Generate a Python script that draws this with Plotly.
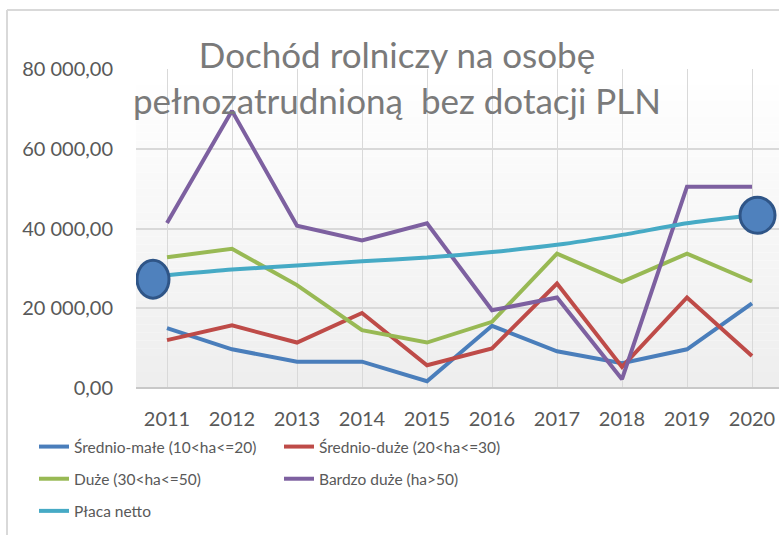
import plotly.graph_objects as go

# ---------------- data ----------------
years = ["2011", "2012", "2013", "2014", "2015", "2016", "2017", "2018", "2019", "2020"]
srednio_male = [15000, 9700, 6600, 6600, 1700, 15600, 9200, 6200, 9700, 21200]
srednio_duze = [12000, 15700, 11400, 18800, 5700, 9900, 26200, 5300, 22700, 8000]
duze = [32800, 34900, 25800, 14500, 11400, 16600, 33700, 26600, 33700, 26700]
bardzo_duze = [41400, 69500, 40700, 37000, 41300, 19500, 22700, 2200, 50500, 50500]
placa_netto = [28300, 29700, 30700, 31800, 32700, 34100, 35900, 38400, 41300, 43300]
series_names = ["Średnio-małe (10<ha<=20)", "Średnio-duże (20<ha<=30)",
                "Duże (30<ha<=50)", "Bardzo duże (ha>50)", "Płaca netto"]
y_tick_vals = [0, 20000, 40000, 60000, 80000]
title_text = "Dochód rolniczy na osobę<br>pełnozatrudnioną\u00a0 bez dotacji PLN"

# ---------------- geometry / style ----------------
W, H = 779, 535
L, T, R, B = 136, 69, 0, 147
PW, PH = W - L - R, H - T - B
FONT = "Lato, 'Open Sans', sans-serif"
LEG_FONT = "Lato, sans-serif"
colors = ["#4a7ebb", "#be4b48", "#98b954", "#7d60a0", "#46aac5"]
TXT = "#595959"
GRID = "#d9d9d9"


def px_x(px):
    return (px - L) / PW


def px_y(py):
    return (H - B - py) / PH


fig = go.Figure()
data = [srednio_male, srednio_duze, duze, bardzo_duze, placa_netto]
legend_of = ["legend", "legend2", "legend", "legend2", "legend"]
for i, (name, vals) in enumerate(zip(series_names, data)):
    fig.add_trace(go.Scatter(
        x=years, y=vals, name=name, mode="lines",
        line=dict(color=colors[i], width=4,
                  shape="spline" if i == 4 else "linear", smoothing=0.6),
        legend=legend_of[i], legendgroup=name,
    ))

shapes = []
# background gradient of plot area
nb = 40
for k in range(nb):
    t = k / (nb - 1)
    c = int(round(255 - (255 - 238) * (1 - t)))
    shapes.append(dict(type="rect", xref="x domain", yref="y domain",
                       x0=0, x1=1, y0=k / nb, y1=(k + 1) / nb,
                       fillcolor=f"rgb({c},{c},{c})", line=dict(width=0),
                       layer="below"))
# chart frame
shapes.append(dict(type="line", xref="paper", yref="paper",
                   x0=px_x(7), x1=px_x(W + 5), y0=px_y(10), y1=px_y(10),
                   line=dict(color="#d9d9d9", width=2)))
shapes.append(dict(type="line", xref="paper", yref="paper",
                   x0=px_x(7), x1=px_x(7), y0=px_y(10), y1=px_y(H + 5),
                   line=dict(color="#d9d9d9", width=2)))
# highlight ellipses at first and last wage points
shapes.append(dict(type="circle", xref="x", yref="y",
                   xsizemode="pixel", ysizemode="pixel",
                   xanchor=0, yanchor=placa_netto[0],
                   x0=-30, x1=2, y0=-23, y1=15,
                   fillcolor="#4f81bd", line=dict(color="#2f5587", width=3)))
shapes.append(dict(type="circle", xref="x", yref="y",
                   xsizemode="pixel", ysizemode="pixel",
                   xanchor=len(years) - 1, yanchor=placa_netto[-1],
                   x0=-12, x1=23, y0=-18, y1=18,
                   fillcolor="#4f81bd", line=dict(color="#2f5587", width=3)))

fig.update_layout(
    width=W, height=H, autosize=False,
    margin=dict(l=L, r=R, t=T, b=B, pad=0),
    paper_bgcolor="white", plot_bgcolor="white",
    separators=", ",
    font=dict(family=FONT, color=TXT, size=20),
    title=dict(text=title_text, xref="container", yref="container",
               x=397 / W, xanchor="center", y=1 - 68 / H, yanchor="top",
               font=dict(family=FONT, size=35, color="#7a7a7a")),
    xaxis=dict(type="category", range=[(L - 167) / 65, (W - 167) / 65],
               showgrid=True, gridcolor=GRID, gridwidth=1,
               showline=False, zeroline=False, ticks="",
               tickfont=dict(size=20, color=TXT), ticklabelstandoff=17),
    yaxis=dict(range=[0, 80000], tickvals=y_tick_vals, tickformat=",.2f",
               showgrid=True, gridcolor=GRID, gridwidth=1.5,
               zeroline=True, zerolinecolor="#c8c8c8", zerolinewidth=1.5,
               showline=False, ticks="", tickfont=dict(size=20, color=TXT),
               ticklabelstandoff=22),
    legend=dict(x=px_x(34), xanchor="left", y=px_y(430), yanchor="top",
                orientation="v", traceorder="grouped", tracegroupgap=9,
                font=dict(family=LEG_FONT, size=15.5, color=TXT),
                bgcolor="rgba(0,0,0,0)", borderwidth=0),
    legend2=dict(x=px_x(279), xanchor="left", y=px_y(430), yanchor="top",
                 orientation="v", traceorder="grouped", tracegroupgap=9,
                 font=dict(family=LEG_FONT, size=15.5, color=TXT),
                 bgcolor="rgba(0,0,0,0)", borderwidth=0),
    shapes=shapes,
)

fig.write_html("out.html")
